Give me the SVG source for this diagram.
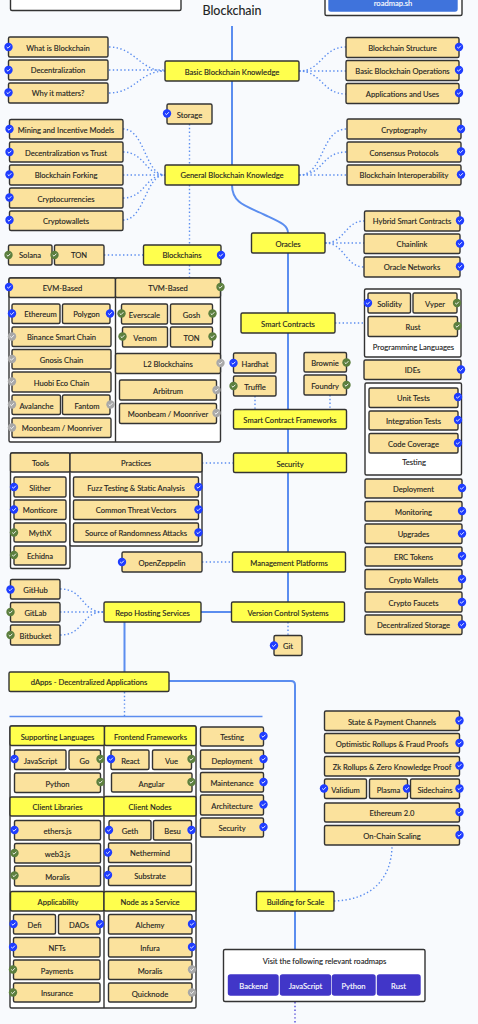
<svg xmlns="http://www.w3.org/2000/svg" width="478" height="1024" viewBox="0 0 478 1024">
<style>
.bg{fill:#f8fafd}
.n,.y,.w,.p,.m{stroke:#333;stroke-width:1.4}
.n{fill:#fbe29d}
.y{fill:#ffff4d}
.w{fill:#fff}
.p{fill:#4136c8;stroke:#4136c8}
.m{fill:#3f73dc;stroke:#3f73dc}
text{font-family:"Lato","Liberation Sans",sans-serif;font-size:7.6px;fill:#222;stroke:#222;stroke-width:.12;text-anchor:middle}
.lt{fill:#fff;stroke:#fff}
.ttl{font-size:12.5px}
.s{fill:none;stroke:#5b8def;stroke-width:2}
.d{fill:none;stroke:#5b8def;stroke-width:1.4;stroke-dasharray:1.4 2.4}
.dp{fill:none;stroke:#4f46d8;stroke-width:1.4;stroke-dasharray:1.4 2.4}
.bl{fill:#1f3dff}
.gr{fill:#5c7f3e}
.ga{fill:#a8a8a8}
</style>
<defs>
<g id="c"><circle r="4.200"/><path d="M-1.800,0 L-.5,1.200 L1.900,-1.300" fill="none" stroke="#fff" stroke-width=".9"/></g>
</defs>
<rect class="bg" width="478" height="1024"/>
<g id="connectors">
<path class="s" d="M232,26V185C232,205 250,207 265,215C280,222 288,225 288,233V602"/>
<path class="s" d="M201,612H232"/>
<path class="s" d="M124.500,622V672"/>
<path class="s" d="M169,681H291Q295,681 295,685V950"/>
<path class="s" style="stroke-width:1.500" d="M9.500,716.500H262.500"/>
<path class="d" d="M109,47C135,47 140,71 165,71"/>
<path class="d" d="M109,70H165"/>
<path class="d" d="M109,93C135,93 140,71 165,71"/>
<path class="d" d="M299,71C322,71 322,47 346,47"/>
<path class="d" d="M299,71H346"/>
<path class="d" d="M299,71C322,71 322,94 346,94"/>
<path class="d" d="M189.500,124V165"/>
<path class="d" d="M189.500,185V245"/>
<path class="d" d="M123,129C145,129 145,175 165,175"/>
<path class="d" d="M123,152C145,152 145,175 165,175"/>
<path class="d" d="M123,175H165"/>
<path class="d" d="M123,198C145,198 145,175 165,175"/>
<path class="d" d="M123,220C145,220 145,175 165,175"/>
<path class="d" d="M299,175C325,175 320,129 347,129"/>
<path class="d" d="M299,175C325,175 320,152 347,152"/>
<path class="d" d="M299,175H347"/>
<path class="d" d="M325,243C345,243 345,221 364,221"/>
<path class="d" d="M325,243H364"/>
<path class="d" d="M325,243C345,243 345,267 364,267"/>
<path class="d" d="M104,255H143"/>
<path class="d" d="M189.500,265V278"/>
<path class="d" d="M335,323H364"/>
<path class="d" d="M255,396V409"/>
<path class="d" d="M330,395V409"/>
<path class="d" d="M202,463H233"/>
<path class="d" d="M202,562H233"/>
<path class="d" d="M60,589C85,589 80,612 104,612"/>
<path class="d" d="M60,612H104"/>
<path class="d" d="M60,635C85,635 80,612 104,612"/>
<path class="d" d="M288,622V635"/>
<path class="d" d="M124.500,692V716"/>
<path class="d" d="M334,901C370,900 392,880 392,845"/>
<path class="dp" d="M295,1002V1024"/>
</g>
<g id="top-left"><rect class="w" x="10.500" y="-10" width="170.500" height="20.500" rx="1.500"/></g>
<g id="top-right"><rect class="w" x="325" y="-10" width="137" height="25.500" rx="1.500"/><rect class="m" x="329" y="-10" width="128" height="21" rx="2"/><text class="lt" x="393" y="6">roadmap.sh</text></g>
<g id="title"><text class="ttl" x="232" y="14.500">Blockchain</text></g>
<g id="n-what"><rect class="n" x="8.500" y="37" width="99.500" height="20" rx="1.500"/><text x="58" y="50.500">What is Blockchain</text><use href="#c" class="bl" x="8.500" y="47"/></g>
<g id="n-dec"><rect class="n" x="8.500" y="60" width="99.500" height="20" rx="1.500"/><text x="58" y="73">Decentralization</text><use href="#c" class="bl" x="8.500" y="70"/></g>
<g id="n-why"><rect class="n" x="8.500" y="83" width="99.500" height="20" rx="1.500"/><text x="58" y="96">Why it matters?</text><use href="#c" class="bl" x="8.500" y="92.500"/></g>
<g id="n-basic"><rect class="y" x="165" y="61" width="134" height="20" rx="1.500"/><text x="232" y="75">Basic Blockchain Knowledge</text></g>
<g id="n-struct"><rect class="n" x="346" y="37.500" width="113" height="20" rx="1.500"/><text x="402.500" y="50.500">Blockchain Structure</text><use href="#c" class="bl" x="459" y="47"/></g>
<g id="n-ops"><rect class="n" x="346" y="60.500" width="113" height="20" rx="1.500"/><text x="402.500" y="74">Basic Blockchain Operations</text><use href="#c" class="bl" x="459" y="70"/></g>
<g id="n-apps"><rect class="n" x="346" y="83.500" width="113" height="20" rx="1.500"/><text x="402.500" y="97">Applications and Uses</text><use href="#c" class="bl" x="459" y="93"/></g>
<g id="n-storage"><rect class="n" x="167" y="104" width="45" height="20" rx="1.500"/><text x="189.500" y="117.500">Storage</text><use href="#c" class="bl" x="167" y="113.500"/></g>
<g id="n-mining"><rect class="n" x="9.500" y="119.500" width="113.500" height="19.500" rx="1.500"/><text x="66" y="133">Mining and Incentive Models</text><use href="#c" class="bl" x="9.500" y="129"/></g>
<g id="n-dvt"><rect class="n" x="9.500" y="142" width="113.500" height="20" rx="1.500"/><text x="66" y="155.500">Decentralization vs Trust</text><use href="#c" class="bl" x="9.500" y="152"/></g>
<g id="n-fork"><rect class="n" x="9.500" y="165" width="113.500" height="20" rx="1.500"/><text x="66" y="178">Blockchain Forking</text><use href="#c" class="bl" x="9.500" y="174.500"/></g>
<g id="n-cc"><rect class="n" x="9.500" y="188" width="113.500" height="20" rx="1.500"/><text x="66" y="201.500">Cryptocurrencies</text><use href="#c" class="bl" x="9.500" y="197.500"/></g>
<g id="n-cw"><rect class="n" x="9.500" y="211" width="113.500" height="19.500" rx="1.500"/><text x="66" y="224">Cryptowallets</text><use href="#c" class="bl" x="9.500" y="220"/></g>
<g id="n-general"><rect class="y" x="165" y="165" width="134" height="20" rx="1.500"/><text x="232" y="178">General Blockchain Knowledge</text></g>
<g id="n-crypto"><rect class="n" x="347" y="119" width="114" height="20" rx="1.500"/><text x="404" y="133">Cryptography</text><use href="#c" class="bl" x="461" y="129"/></g>
<g id="n-cons"><rect class="n" x="347" y="142" width="114" height="20" rx="1.500"/><text x="404" y="155.500">Consensus Protocols</text><use href="#c" class="bl" x="461" y="151.500"/></g>
<g id="n-interop"><rect class="n" x="347" y="165" width="114" height="20" rx="1.500"/><text x="404" y="178">Blockchain Interoperability</text><use href="#c" class="bl" x="461" y="174.500"/></g>
<g id="n-hybrid"><rect class="n" x="364.500" y="211" width="95.500" height="20" rx="1.500"/><text x="412" y="224">Hybrid Smart Contracts</text><use href="#c" class="bl" x="460" y="220.500"/></g>
<g id="n-chainlink"><rect class="n" x="364" y="234" width="96" height="19.500" rx="1.500"/><text x="412" y="247">Chainlink</text><use href="#c" class="bl" x="460" y="243.500"/></g>
<g id="n-onet"><rect class="n" x="364" y="257" width="96" height="20" rx="1.500"/><text x="412" y="270">Oracle Networks</text><use href="#c" class="bl" x="460" y="266.500"/></g>
<g id="n-oracles"><rect class="y" x="251.500" y="233" width="73.500" height="20" rx="1.500"/><text x="288" y="247">Oracles</text></g>
<g id="n-solana"><rect class="n" x="8.500" y="245" width="43.500" height="20" rx="1.500"/><text x="30" y="258">Solana</text><use href="#c" class="gr" x="8.500" y="255"/></g>
<g id="n-ton"><rect class="n" x="54.500" y="245" width="49.500" height="20" rx="1.500"/><text x="79" y="258">TON</text><use href="#c" class="gr" x="54.500" y="255"/></g>
<g id="n-blockchains"><rect class="y" x="143.500" y="245" width="77.500" height="20" rx="1.500"/><text x="182" y="258">Blockchains</text><use href="#c" class="bl" x="221" y="255"/></g>
<g id="box-evm"><rect class="w" x="9" y="278" width="211.500" height="164" rx="1.500"/><path class="w" d="M115.500,278V442"/></g>
<g id="n-evm"><rect class="n" x="9" y="278" width="106.500" height="19.500" rx="1.500"/><text x="62.500" y="291">EVM-Based</text><use href="#c" class="bl" x="9" y="287"/></g>
<g id="n-tvm"><rect class="n" x="115.500" y="278" width="105" height="19.500" rx="1.500"/><text x="168" y="291">TVM-Based</text><use href="#c" class="gr" x="220.500" y="287"/></g>
<g id="n-eth"><rect class="n" x="12" y="304" width="48" height="19.500" rx="1.500"/><text x="40.500" y="317">Ethereum</text><use href="#c" class="bl" x="12" y="313.500"/></g>
<g id="n-poly"><rect class="n" x="62.500" y="304" width="47.500" height="19.500" rx="1.500"/><text x="86.500" y="317">Polygon</text><use href="#c" class="bl" x="110" y="313.500"/></g>
<g id="n-bsc"><rect class="n" x="12" y="327" width="99" height="19.500" rx="1.500"/><text x="61.500" y="340">Binance Smart Chain</text><use href="#c" class="ga" x="12" y="336.500"/></g>
<g id="n-gnosis"><rect class="n" x="12" y="349.500" width="99" height="19.500" rx="1.500"/><text x="61.500" y="362.500">Gnosis Chain</text><use href="#c" class="ga" x="12" y="359"/></g>
<g id="n-huobi"><rect class="n" x="12" y="372" width="99" height="20" rx="1.500"/><text x="61.500" y="385.500">Huobi Eco Chain</text><use href="#c" class="ga" x="12" y="381.500"/></g>
<g id="n-aval"><rect class="n" x="12" y="395" width="48.500" height="19.500" rx="1.500"/><text x="36.500" y="408.500">Avalanche</text><use href="#c" class="ga" x="12" y="404.500"/></g>
<g id="n-fantom"><rect class="n" x="62.500" y="395" width="47.500" height="19.500" rx="1.500"/><text x="87" y="408.500">Fantom</text><use href="#c" class="ga" x="110.500" y="404.500"/></g>
<g id="n-moon1"><rect class="n" x="12" y="418" width="99" height="19.500" rx="1.500"/><text x="62" y="431">Moonbeam / Moonriver</text><use href="#c" class="ga" x="12" y="427.500"/></g>
<g id="n-ever"><rect class="n" x="121.500" y="304" width="46" height="20" rx="1.500"/><text x="144.500" y="318">Everscale</text><use href="#c" class="gr" x="121.500" y="313.500"/></g>
<g id="n-gosh"><rect class="n" x="170.500" y="304" width="42" height="20" rx="1.500"/><text x="191.500" y="318">Gosh</text><use href="#c" class="gr" x="212.500" y="313.500"/></g>
<g id="n-venom"><rect class="n" x="122.500" y="327" width="45" height="20" rx="1.500"/><text x="145" y="340.500">Venom</text><use href="#c" class="gr" x="122.500" y="336.500"/></g>
<g id="n-ton2"><rect class="n" x="170.500" y="327" width="42" height="20" rx="1.500"/><text x="191.500" y="340.500">TON</text><use href="#c" class="gr" x="212.500" y="336.500"/></g>
<g id="n-l2"><rect class="n" x="115.500" y="353.500" width="105" height="20" rx="1.500"/><text x="168" y="367">L2 Blockchains</text><use href="#c" class="ga" x="220.500" y="363"/></g>
<g id="n-arb"><rect class="n" x="119.500" y="380" width="97" height="20" rx="1.500"/><text x="168" y="393.500">Arbitrum</text><use href="#c" class="ga" x="216.500" y="390"/></g>
<g id="n-moon2"><rect class="n" x="119.500" y="403.500" width="97" height="20" rx="1.500"/><text x="168" y="417">Moonbeam / Moonriver</text><use href="#c" class="ga" x="216.500" y="413"/></g>
<g id="n-sc"><rect class="y" x="241" y="313" width="94" height="20" rx="1.500"/><text x="288" y="326.500">Smart Contracts</text></g>
<g id="box-pl"><rect class="w" x="364.500" y="289" width="96.500" height="68" rx="1.500"/><text x="413.500" y="350">Programming Languages</text></g>
<g id="n-sol"><rect class="n" x="368" y="293" width="42.500" height="20" rx="1.500"/><text x="389.500" y="306.500">Solidity</text><use href="#c" class="bl" x="368" y="303"/></g>
<g id="n-vyper"><rect class="n" x="413" y="293" width="44" height="20" rx="1.500"/><text x="435" y="306.500">Vyper</text><use href="#c" class="gr" x="457" y="303"/></g>
<g id="n-rust"><rect class="n" x="368" y="316.500" width="89.500" height="20" rx="1.500"/><text x="413" y="329.500">Rust</text><use href="#c" class="gr" x="457.500" y="326"/></g>
<g id="n-ides"><rect class="n" x="364" y="360" width="97" height="19.500" rx="1.500"/><text x="412.500" y="373">IDEs</text><use href="#c" class="bl" x="461" y="369.500"/></g>
<g id="box-test"><rect class="w" x="365" y="383" width="96.500" height="92" rx="1.500"/><text x="414" y="465">Testing</text></g>
<g id="n-unit"><rect class="n" x="369" y="388" width="89" height="19.500" rx="1.500"/><text x="413.500" y="401">Unit Tests</text><use href="#c" class="bl" x="458" y="397"/></g>
<g id="n-integ"><rect class="n" x="369" y="411" width="89" height="19" rx="1.500"/><text x="413.500" y="424">Integration Tests</text><use href="#c" class="bl" x="458" y="420"/></g>
<g id="n-cov"><rect class="n" x="369" y="433.500" width="89" height="19.500" rx="1.500"/><text x="413.500" y="446.500">Code Coverage</text><use href="#c" class="bl" x="458" y="443"/></g>
<g id="n-hard"><rect class="n" x="233.500" y="353" width="42.500" height="20" rx="1.500"/><text x="255" y="366.500">Hardhat</text><use href="#c" class="bl" x="233.500" y="363"/></g>
<g id="n-truf"><rect class="n" x="233.500" y="376" width="42.500" height="20" rx="1.500"/><text x="255" y="389.500">Truffle</text><use href="#c" class="gr" x="233.500" y="386"/></g>
<g id="n-brow"><rect class="n" x="304" y="352.500" width="42.500" height="19.500" rx="1.500"/><text x="325" y="366">Brownie</text><use href="#c" class="gr" x="346.500" y="362.500"/></g>
<g id="n-found"><rect class="n" x="304" y="375" width="42.500" height="20" rx="1.500"/><text x="325" y="389">Foundry</text><use href="#c" class="gr" x="346.500" y="385"/></g>
<g id="n-scf"><rect class="y" x="233.500" y="409.500" width="113" height="19.500" rx="1.500"/><text x="290" y="422.500">Smart Contract Frameworks</text></g>
<g id="n-sec"><rect class="y" x="233.500" y="453" width="113" height="19.500" rx="1.500"/><text x="290" y="466.500">Security</text></g>
<g id="box-tools"><rect class="w" x="10.500" y="453" width="59.500" height="115.500" rx="1.500"/></g>
<g id="box-prac"><rect class="w" x="70" y="453" width="132" height="93" rx="1.500"/></g>
<g id="n-tools"><rect class="n" x="10.500" y="453" width="59.500" height="19" rx="1.500"/><text x="40.500" y="466">Tools</text></g>
<g id="n-prac"><rect class="n" x="70" y="453" width="132" height="19" rx="1.500"/><text x="136" y="466">Practices</text></g>
<g id="n-slit"><rect class="n" x="14" y="477" width="52" height="20" rx="1.500"/><text x="40" y="490.500">Slither</text><use href="#c" class="bl" x="14" y="487"/></g>
<g id="n-mont"><rect class="n" x="14" y="500" width="52" height="19.500" rx="1.500"/><text x="40" y="513">Monticore</text><use href="#c" class="bl" x="14" y="509.500"/></g>
<g id="n-myth"><rect class="n" x="14" y="523" width="52" height="19" rx="1.500"/><text x="40" y="536">MythX</text><use href="#c" class="gr" x="14" y="532.500"/></g>
<g id="n-echi"><rect class="n" x="14" y="546" width="52" height="19" rx="1.500"/><text x="40" y="559">Echidna</text><use href="#c" class="gr" x="14" y="555"/></g>
<g id="n-fuzz"><rect class="n" x="73.500" y="477" width="125" height="20" rx="1.500"/><text x="136" y="490.500">Fuzz Testing &amp; Static Analysis</text><use href="#c" class="bl" x="198.500" y="487"/></g>
<g id="n-comm"><rect class="n" x="73.500" y="500" width="125" height="19.500" rx="1.500"/><text x="136" y="513">Common Threat Vectors</text><use href="#c" class="bl" x="198.500" y="509.500"/></g>
<g id="n-rand"><rect class="n" x="73.500" y="523" width="125" height="19" rx="1.500"/><text x="136" y="536">Source of Randomness Attacks</text><use href="#c" class="bl" x="198.500" y="532.500"/></g>
<g id="n-oz"><rect class="n" x="122" y="552" width="80" height="20" rx="1.500"/><text x="162" y="565.500">OpenZeppelin</text><use href="#c" class="bl" x="122" y="562"/></g>
<g id="n-mgmt"><rect class="y" x="232.500" y="552" width="113" height="20" rx="1.500"/><text x="289" y="565.500">Management Platforms</text></g>
<g id="n-gh"><rect class="n" x="10.500" y="579.500" width="49.500" height="19.500" rx="1.500"/><text x="35.500" y="592.500">GitHub</text><use href="#c" class="bl" x="10.500" y="589.500"/></g>
<g id="n-gl"><rect class="n" x="10.500" y="602.500" width="49.500" height="19.500" rx="1.500"/><text x="35.500" y="616">GitLab</text><use href="#c" class="gr" x="10.500" y="612"/></g>
<g id="n-bb"><rect class="n" x="10.500" y="625" width="49.500" height="20" rx="1.500"/><text x="35.500" y="639">Bitbucket</text><use href="#c" class="gr" x="10.500" y="635"/></g>
<g id="n-repo"><rect class="y" x="104" y="602" width="97" height="20" rx="1.500"/><text x="152.500" y="615.500">Repo Hosting Services</text></g>
<g id="n-vcs"><rect class="y" x="231.500" y="602" width="113" height="20" rx="1.500"/><text x="288" y="616">Version Control Systems</text></g>
<g id="n-git"><rect class="n" x="274" y="635.500" width="28" height="20" rx="1.500"/><text x="288" y="649">Git</text><use href="#c" class="bl" x="274" y="645.500"/></g>
<g id="n-dapps"><rect class="y" x="9" y="672" width="160" height="19.500" rx="1.500"/><text x="89" y="685">dApps - Decentralized Applications</text></g>
<g id="n-dep"><rect class="n" x="365" y="479" width="97" height="19" rx="1.500"/><text x="413.500" y="492">Deployment</text><use href="#c" class="bl" x="462" y="488"/></g>
<g id="n-mon"><rect class="n" x="365" y="501.500" width="97" height="19.500" rx="1.500"/><text x="413.500" y="514.500">Monitoring</text><use href="#c" class="bl" x="462" y="511"/></g>
<g id="n-upg"><rect class="n" x="365" y="524" width="97" height="19.500" rx="1.500"/><text x="413.500" y="537">Upgrades</text><use href="#c" class="bl" x="462" y="533.500"/></g>
<g id="n-erc"><rect class="n" x="365" y="547" width="97" height="19" rx="1.500"/><text x="413.500" y="560">ERC Tokens</text><use href="#c" class="bl" x="462" y="556"/></g>
<g id="n-cwal"><rect class="n" x="365" y="569.500" width="97" height="19.500" rx="1.500"/><text x="413.500" y="582.500">Crypto Wallets</text><use href="#c" class="bl" x="462" y="579"/></g>
<g id="n-fauc"><rect class="n" x="365" y="592" width="97" height="20" rx="1.500"/><text x="413.500" y="605.500">Crypto Faucets</text><use href="#c" class="bl" x="462" y="602"/></g>
<g id="n-dstor"><rect class="n" x="365" y="615" width="97" height="19.500" rx="1.500"/><text x="413.500" y="628">Decentralized Storage</text><use href="#c" class="bl" x="462" y="624.500"/></g>
<g id="box-dapp"><rect class="w" x="10" y="726" width="186" height="282" rx="1.500"/><path class="w" d="M104,726V1008"/></g>
<g id="n-sl"><rect class="y" x="10" y="726" width="94.500" height="19.500" rx="1.500"/><text x="57.500" y="740">Supporting Languages</text></g>
<g id="n-ff"><rect class="y" x="104.500" y="726" width="91.500" height="19.500" rx="1.500"/><text x="150.500" y="740">Frontend Frameworks</text></g>
<g id="n-js"><rect class="n" x="14.500" y="750" width="51.500" height="19.500" rx="1.500"/><text x="40.500" y="763.500">JavaScript</text><use href="#c" class="bl" x="14.500" y="759"/></g>
<g id="n-go"><rect class="n" x="69" y="750" width="31.500" height="19.500" rx="1.500"/><text x="84.500" y="763.500">Go</text><use href="#c" class="gr" x="100.500" y="759"/></g>
<g id="n-py"><rect class="n" x="14.500" y="773" width="86" height="19.500" rx="1.500"/><text x="57.500" y="786.500">Python</text><use href="#c" class="gr" x="100.500" y="782"/></g>
<g id="n-react"><rect class="n" x="111" y="750" width="38" height="19.500" rx="1.500"/><text x="130.500" y="763.500">React</text><use href="#c" class="bl" x="111" y="759"/></g>
<g id="n-vue"><rect class="n" x="152.500" y="750" width="39" height="19.500" rx="1.500"/><text x="171.500" y="763.500">Vue</text><use href="#c" class="gr" x="191.500" y="759"/></g>
<g id="n-ang"><rect class="n" x="111.500" y="773" width="80.500" height="19" rx="1.500"/><text x="151.500" y="786.500">Angular</text><use href="#c" class="gr" x="191.500" y="782"/></g>
<g id="n-cl"><rect class="y" x="10" y="797" width="94" height="19" rx="1.500"/><text x="57.500" y="810">Client Libraries</text></g>
<g id="n-cn"><rect class="y" x="104" y="796.500" width="92" height="19.500" rx="1.500"/><text x="150" y="809.500">Client Nodes</text></g>
<g id="n-ethers"><rect class="n" x="14.500" y="820.500" width="86" height="19.500" rx="1.500"/><text x="57.500" y="833.500">ethers.js</text><use href="#c" class="bl" x="14.500" y="830"/></g>
<g id="n-web3"><rect class="n" x="14.500" y="843.500" width="86" height="19.500" rx="1.500"/><text x="57.500" y="857">web3.js</text><use href="#c" class="gr" x="14.500" y="853"/></g>
<g id="n-mor"><rect class="n" x="14.500" y="866" width="86" height="20" rx="1.500"/><text x="57.500" y="879.500">Moralis</text><use href="#c" class="gr" x="14.500" y="875.500"/></g>
<g id="n-geth"><rect class="n" x="109" y="820.500" width="42" height="19.500" rx="1.500"/><text x="130" y="833.500">Geth</text><use href="#c" class="bl" x="109" y="830"/></g>
<g id="n-besu"><rect class="n" x="153.500" y="820.500" width="38" height="19.500" rx="1.500"/><text x="172.500" y="833.500">Besu</text><use href="#c" class="bl" x="191.500" y="830"/></g>
<g id="n-neth"><rect class="n" x="108.500" y="843" width="83" height="19.500" rx="1.500"/><text x="150" y="856">Nethermind</text><use href="#c" class="bl" x="108" y="852.500"/></g>
<g id="n-subs"><rect class="n" x="108.500" y="866" width="83" height="19.500" rx="1.500"/><text x="150" y="879">Substrate</text><use href="#c" class="bl" x="108" y="875"/></g>
<g id="n-appl"><rect class="y" x="10.500" y="891.500" width="93.500" height="19.500" rx="1.500"/><text x="58" y="904.500">Applicability</text></g>
<g id="n-naas"><rect class="y" x="104" y="891.500" width="92" height="19.500" rx="1.500"/><text x="150" y="904.500">Node as a Service</text></g>
<g id="n-defi"><rect class="n" x="13.500" y="914.500" width="42" height="19.500" rx="1.500"/><text x="34.500" y="928">Defi</text><use href="#c" class="bl" x="13.500" y="924"/></g>
<g id="n-dao"><rect class="n" x="58.500" y="914.500" width="41.500" height="19.500" rx="1.500"/><text x="79" y="928">DAOs</text><use href="#c" class="bl" x="100" y="924"/></g>
<g id="n-nft"><rect class="n" x="13.500" y="937.500" width="86.500" height="19.500" rx="1.500"/><text x="57" y="950.500">NFTs</text><use href="#c" class="bl" x="13" y="947"/></g>
<g id="n-pay"><rect class="n" x="13.500" y="960" width="86.500" height="19.500" rx="1.500"/><text x="57" y="973.500">Payments</text><use href="#c" class="gr" x="13" y="969.500"/></g>
<g id="n-ins"><rect class="n" x="13.500" y="983" width="86.500" height="19" rx="1.500"/><text x="57" y="996">Insurance</text><use href="#c" class="gr" x="13" y="992.500"/></g>
<g id="n-alch"><rect class="n" x="108.500" y="914.500" width="83.500" height="19.500" rx="1.500"/><text x="150" y="928">Alchemy</text><use href="#c" class="bl" x="192" y="924"/></g>
<g id="n-inf"><rect class="n" x="108.500" y="937.500" width="83.500" height="19.500" rx="1.500"/><text x="150" y="950.500">Infura</text><use href="#c" class="bl" x="192" y="947"/></g>
<g id="n-mor2"><rect class="n" x="108.500" y="960" width="83.500" height="19.500" rx="1.500"/><text x="150" y="974">Moralis</text><use href="#c" class="ga" x="192" y="969.500"/></g>
<g id="n-qn"><rect class="n" x="108.500" y="983" width="83.500" height="19" rx="1.500"/><text x="150" y="996.500">Quicknode</text><use href="#c" class="ga" x="192" y="992.500"/></g>
<g id="n-t"><rect class="n" x="200.500" y="727" width="63" height="19" rx="1.500"/><text x="232" y="740">Testing</text><use href="#c" class="bl" x="263.500" y="736"/></g>
<g id="n-d"><rect class="n" x="200.500" y="750" width="63" height="19" rx="1.500"/><text x="232" y="763.500">Deployment</text><use href="#c" class="bl" x="263.500" y="759"/></g>
<g id="n-m"><rect class="n" x="200.500" y="772.500" width="63" height="19.500" rx="1.500"/><text x="232" y="786">Maintenance</text><use href="#c" class="bl" x="263.500" y="782"/></g>
<g id="n-a"><rect class="n" x="200.500" y="795" width="63" height="20" rx="1.500"/><text x="232" y="808.500">Architecture</text><use href="#c" class="bl" x="263.500" y="804.500"/></g>
<g id="n-s"><rect class="n" x="200.500" y="818" width="63" height="19" rx="1.500"/><text x="232" y="831">Security</text><use href="#c" class="bl" x="263.500" y="827"/></g>
<g id="n-state"><rect class="n" x="324.500" y="711" width="135" height="19.500" rx="1.500"/><text x="392" y="724.500">State &amp; Payment Channels</text><use href="#c" class="bl" x="459.500" y="720.500"/></g>
<g id="n-opt"><rect class="n" x="324.500" y="733.500" width="135" height="19.500" rx="1.500"/><text x="392" y="747">Optimistic Rollups &amp; Fraud Proofs</text><use href="#c" class="bl" x="459.500" y="743"/></g>
<g id="n-zk"><rect class="n" x="324.500" y="756.500" width="135" height="19.500" rx="1.500"/><text x="392" y="770">Zk Rollups &amp; Zero Knowledge Proof</text><use href="#c" class="bl" x="459.500" y="765.500"/></g>
<g id="n-val"><rect class="n" x="324.500" y="779" width="42" height="19.500" rx="1.500"/><text x="345.500" y="792.500">Validium</text><use href="#c" class="bl" x="324" y="788.500"/></g>
<g id="n-pla"><rect class="n" x="369.500" y="779" width="38" height="19.500" rx="1.500"/><text x="388.500" y="792.500">Plasma</text><use href="#c" class="bl" x="407" y="788.500"/></g>
<g id="n-side"><rect class="n" x="410.500" y="779" width="49" height="19.500" rx="1.500"/><text x="435" y="792.500">Sidechains</text><use href="#c" class="bl" x="459.500" y="788.500"/></g>
<g id="n-eth2"><rect class="n" x="324.500" y="803" width="135" height="19" rx="1.500"/><text x="392" y="816">Ethereum 2.0</text><use href="#c" class="bl" x="459.500" y="812"/></g>
<g id="n-ocs"><rect class="n" x="324.500" y="825.500" width="135" height="19.500" rx="1.500"/><text x="392" y="839">On-Chain Scaling</text><use href="#c" class="bl" x="459.500" y="835"/></g>
<g id="n-bfs"><rect class="y" x="256.500" y="891.500" width="77.500" height="19.500" rx="1.500"/><text x="295.500" y="904.500">Building for Scale</text></g>
<g id="box-visit"><rect class="w" x="223.500" y="949.500" width="201.500" height="52" rx="1.500"/><text x="324.500" y="964">Visit the following relevant roadmaps</text></g>
<g id="b-be"><rect class="p" x="228.500" y="975" width="49.500" height="20" rx="2"/><text class="lt" x="253.500" y="988.500">Backend</text></g>
<g id="b-js"><rect class="p" x="280.500" y="975" width="50" height="20" rx="2"/><text class="lt" x="305.500" y="988.500">JavaScript</text></g>
<g id="b-py"><rect class="p" x="332.500" y="975" width="42.500" height="20" rx="2"/><text class="lt" x="353.500" y="988.500">Python</text></g>
<g id="b-ru"><rect class="p" x="377.500" y="975" width="42.500" height="20" rx="2"/><text class="lt" x="398.500" y="988.500">Rust</text></g>
</svg>
